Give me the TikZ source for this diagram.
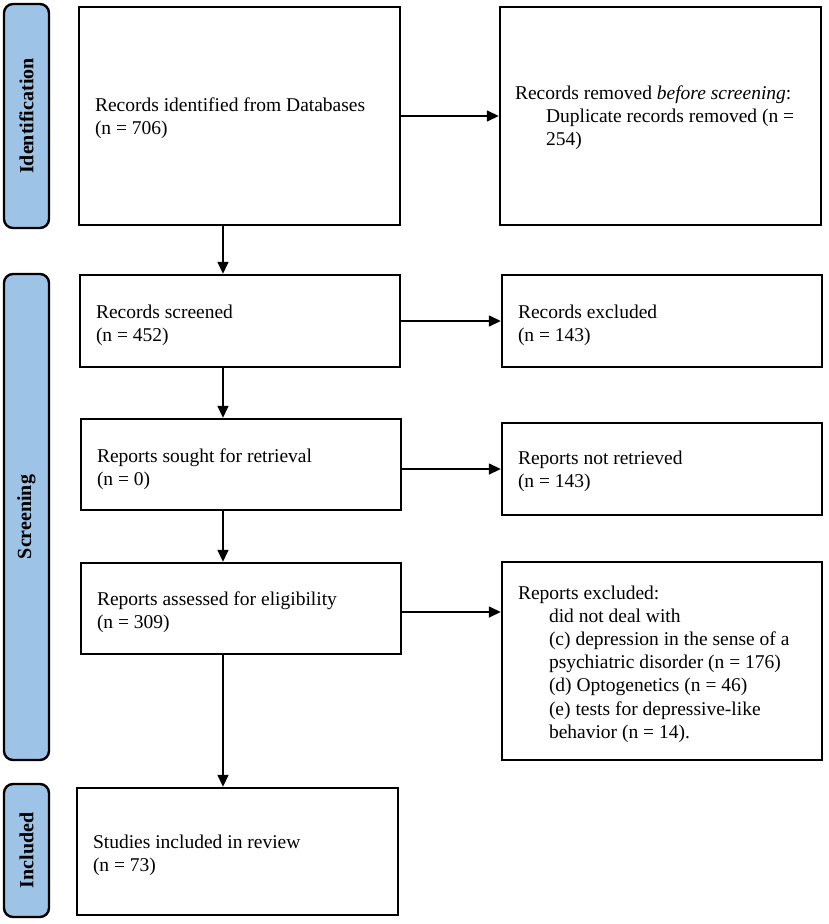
\documentclass[tikz,border=0pt]{standalone}
\usepackage{fontspec}
\setmainfont{Liberation Serif}
\usetikzlibrary{arrows.meta}
\definecolor{barblue}{RGB}{157,195,230}
\begin{document}
\begin{tikzpicture}[x=1pt,y=-1pt,
  box/.style={draw=black,line width=2.4pt,rectangle,inner sep=0pt},
  txt/.style={anchor=west,align=left,inner sep=0pt,font=\fontsize{19.5}{23.2}\selectfont},
  bar/.style={draw=black,line width=2.4pt,fill=barblue,rounded corners=9pt,inner sep=0pt},
  bartxt/.style={rotate=90,font=\fontsize{20}{24}\selectfont\bfseries,inner sep=0pt},
  arr/.style={line width=1.5pt,-{Triangle[length=12pt,width=11pt]}}]
\useasboundingbox (0,0) rectangle (829,924);
% side bars
\node[bar,minimum width=45pt,minimum height=224pt] (idbar) at (26.5,116) {};
\node[bartxt] (idtxt) at (idbar.center) {Identification};
\node[bar,minimum width=45pt,minimum height=486pt] (scbar) at (26.5,517) {};
\node[bartxt] (sctxt) at (scbar.center) {Screening};
\node[bar,minimum width=45pt,minimum height=133pt] (inbar) at (26.5,850.5) {};
\node[bartxt] (intxt) at (inbar.center) {Included};
% boxes
\node[box,minimum width=321pt,minimum height=218pt] (b1) at (239.5,116) {};
\node[box,minimum width=321pt,minimum height=218pt] (rem) at (660.5,116) {};
\node[box,minimum width=320pt,minimum height=92pt] (scr) at (240,321) {};
\node[box,minimum width=320pt,minimum height=92pt] (exc) at (662,321) {};
\node[box,minimum width=320pt,minimum height=91pt] (sou) at (241,464.5) {};
\node[box,minimum width=320pt,minimum height=92pt] (nr) at (662,469) {};
\node[box,minimum width=320pt,minimum height=91pt] (ass) at (241,608.5) {};
\node[box,minimum width=320pt,minimum height=198pt] (rex) at (662,661) {};
\node[box,minimum width=321pt,minimum height=127pt] (inc) at (237.5,851.5) {};
% texts
\node[txt] (t1) at ([xshift=17pt,yshift=-2pt]b1.west) {Records identified from Databases\\(n = 706)};
\node[txt] (t2) at ([xshift=16pt,yshift=-2pt]rem.west) {Records removed \textit{before screening}:\\\hspace*{31pt}Duplicate records removed (n =\\\hspace*{31pt}254)};
\node[txt] (t3) at ([xshift=17pt,yshift=-4pt]scr.west) {Records screened\\(n = 452)};
\node[txt] (t4) at ([xshift=17pt,yshift=-4pt]exc.west) {Records excluded\\(n = 143)};
\node[txt] (t5) at ([xshift=17pt,yshift=-4.5pt]sou.west) {Reports sought for retrieval\\(n = 0)};
\node[txt] (t6) at ([xshift=17pt,yshift=-2.5pt]nr.west) {Reports not retrieved\\(n = 143)};
\node[txt] (t7) at ([xshift=17pt,yshift=-3.5pt]ass.west) {Reports assessed for eligibility\\(n = 309)};
\node[txt] (t8) at ([xshift=17pt,yshift=-3pt]rex.west) {Reports excluded:\\\hspace*{31pt}did not deal with\\\hspace*{31pt}(c) depression in the sense of a\\\hspace*{31pt}psychiatric disorder (n = 176)\\\hspace*{31pt}(d) Optogenetics (n = 46)\\\hspace*{31pt}(e) tests for depressive-like\\\hspace*{31pt}behavior (n = 14).};
\node[txt] (t9) at ([xshift=17pt,yshift=-3.5pt]inc.west) {Studies included in review\\(n = 73)};
% connectors
\coordinate (ax) at (223,0);
\coordinate (ay) at ([yshift=-3.5pt]ass.east);
\draw[arr] (b1.south -| ax) -- (scr.north -| ax);
\draw[arr] (scr.south -| ax) -- (sou.north -| ax);
\draw[arr] (sou.south -| ax) -- (ass.north -| ax);
\draw[arr] (ass.south -| ax) -- (inc.north -| ax);
\draw[arr] (b1.east) -- (rem.west);
\draw[arr] (scr.east) -- (exc.west);
\draw[arr] (sou.east |- nr.west) -- (nr.west);
\draw[arr] (ay) -- (rex.west |- ay);
\end{tikzpicture}
\end{document}
